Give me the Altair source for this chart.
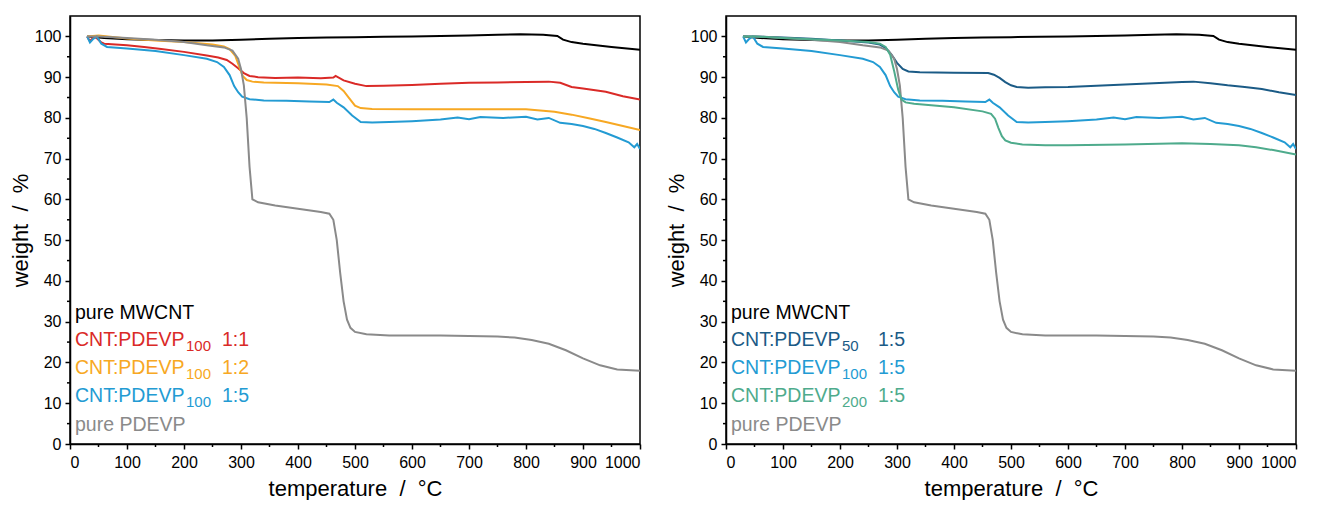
import altair as alt
import pandas as pd

# ---------------- data ----------------
T_MWCNT = [30, 60, 100, 150, 200, 250, 300, 350, 400, 450, 500, 550, 600, 650, 700, 750, 790, 830, 855, 865, 880, 900, 950, 1000]
W_MWCNT = [100, 99.6, 99.3, 99.1, 99.0, 99.0, 99.2, 99.4, 99.6, 99.7, 99.8, 99.9, 100.0, 100.1, 100.2, 100.4, 100.5, 100.4, 100.1, 99.2, 98.6, 98.2, 97.4, 96.7]

T_PDEVP = [30, 50, 100, 150, 200, 240, 270, 285, 295, 300, 305, 310, 315, 320, 330, 360, 400, 440, 455, 462, 468, 474, 480, 486, 492, 500, 520, 560, 600, 650, 700, 750, 780, 810, 840, 870, 900, 930, 960, 1000]
W_PDEVP = [100, 100, 99.6, 99.2, 98.6, 97.8, 97.3, 96.5, 94.5, 92, 88, 80, 68, 60, 59.3, 58.5, 57.7, 56.9, 56.5, 55, 50, 42, 35, 30.5, 28.5, 27.5, 26.9, 26.6, 26.6, 26.6, 26.5, 26.4, 26.1, 25.5, 24.6, 23.0, 21.0, 19.3, 18.3, 18.0]

T_100_11 = [30, 35, 40, 45, 55, 60, 80, 100, 130, 160, 200, 240, 260, 275, 285, 295, 305, 315, 330, 360, 400, 440, 462, 466, 480, 500, 520, 550, 600, 650, 700, 750, 800, 840, 860, 880, 900, 940, 970, 1000]
W_100_11 = [100, 98.8, 99.6, 99.8, 98.5, 98.2, 98.0, 97.8, 97.4, 96.9, 96.2, 95.3, 94.8, 94.2, 93.3, 92.2, 91.0, 90.3, 90.0, 89.8, 89.9, 89.7, 89.9, 90.3, 89.2, 88.4, 87.8, 87.9, 88.1, 88.4, 88.6, 88.7, 88.8, 88.9, 88.6, 87.6, 87.2, 86.4, 85.3, 84.5]

T_100_12 = [30, 50, 100, 150, 200, 250, 270, 280, 290, 297, 303, 310, 320, 340, 400, 450, 470, 480, 490, 500, 510, 530, 600, 700, 800, 850, 880, 910, 940, 970, 1000]
W_100_12 = [100, 100.2, 99.5, 99.0, 98.6, 98.0, 97.5, 96.9, 95.2, 92.5, 90.3, 89.3, 88.9, 88.7, 88.5, 88.2, 87.8, 86.6, 84.8, 83.0, 82.4, 82.2, 82.1, 82.1, 82.1, 81.5, 80.8, 79.9, 79.0, 78.0, 77.0]

T_100_15 = [30, 35, 40, 47, 55, 65, 100, 150, 200, 240, 258, 270, 280, 288, 295, 302, 315, 340, 380, 420, 455, 462, 468, 480, 495, 510, 530, 560, 600, 650, 680, 700, 720, 760, 800, 820, 840, 860, 880, 900, 920, 940, 960, 980, 990, 995, 1000]
W_100_15 = [100, 98.5, 99.3, 100, 98.2, 97.4, 97.0, 96.4, 95.4, 94.5, 93.7, 92.5, 90.5, 87.8, 86.3, 85.2, 84.6, 84.3, 84.2, 84.0, 83.9, 84.5, 83.7, 82.6, 80.6, 79.0, 78.9, 79.0, 79.2, 79.6, 80.1, 79.7, 80.2, 80.0, 80.3, 79.6, 80.0, 78.8, 78.5, 78.0, 77.3, 76.3, 75.2, 74.0, 72.8, 73.6, 72.4]

T_50_15 = [30, 50, 100, 150, 200, 250, 270, 280, 290, 300, 310, 320, 340, 400, 460, 470, 480, 490, 500, 510, 530, 560, 600, 650, 700, 750, 800, 820, 850, 880, 910, 940, 970, 1000]
W_50_15 = [100, 100, 99.7, 99.4, 99.0, 98.5, 98.0, 97.2, 95.6, 93.5, 92.0, 91.4, 91.2, 91.1, 91.0, 90.6, 89.8, 88.8, 88.0, 87.6, 87.4, 87.5, 87.6, 87.9, 88.2, 88.5, 88.8, 88.9, 88.5, 88.0, 87.6, 87.1, 86.3, 85.6]

T_200_15 = [30, 50, 100, 150, 200, 250, 270, 280, 288, 295, 302, 308, 315, 330, 350, 400, 450, 465, 472, 478, 484, 490, 500, 520, 560, 600, 700, 800, 850, 900, 930, 960, 1000]
W_200_15 = [100, 100, 99.6, 99.3, 99.0, 98.6, 98.2, 97.4, 95.5, 91.5, 87.0, 84.5, 83.8, 83.5, 83.2, 82.6, 81.6, 81.0, 79.8, 77.5, 75.5, 74.5, 73.9, 73.5, 73.3, 73.3, 73.5, 73.8, 73.6, 73.3, 72.8, 72.1, 71.0]

X_TICKS = list(range(0, 1001, 100))
X_MINOR = list(range(50, 1000, 100))
Y_TICKS = list(range(0, 101, 10))
Y_MINOR = list(range(5, 100, 10))

LEFT_LEGEND = [("pure MWCNT", "", ""), ("CNT:PDEVP", "100", "1:1"), ("CNT:PDEVP", "100", "1:2"),
               ("CNT:PDEVP", "100", "1:5"), ("pure PDEVP", "", "")]
RIGHT_LEGEND = [("pure MWCNT", "", ""), ("CNT:PDEVP", "50", "1:5"), ("CNT:PDEVP", "100", "1:5"),
                ("CNT:PDEVP", "200", "1:5"), ("pure PDEVP", "", "")]

# ---------------- styles ----------------
BLACK = "#000000"
RED = "#DA2A27"
ORANGE = "#F7A823"
BLUE = "#239BD3"
GRAY = "#8A8A8A"
DKBLUE = "#1B5B86"
TEAL = "#4EAB8C"
FONT = "Liberation Sans"
W_PX, H_PX = 570, 428

x_enc = alt.X("T:Q", scale=alt.Scale(domain=[0, 1000], nice=False),
              axis=alt.Axis(values=X_TICKS, format="d", title="temperature\u00a0 /\u00a0 °C",
                            labelPadding=5, titlePadding=8))
y_enc = alt.Y("W:Q", scale=alt.Scale(domain=[0, 105], nice=False, zero=False),
              axis=alt.Axis(values=Y_TICKS, format="d", title="weight\u00a0 /\u00a0 %",
                            labelPadding=4, titlePadding=2))


def line(T, W, color):
    return alt.Chart(pd.DataFrame({"T": T, "W": W})).mark_line(
        color=color, strokeWidth=2, clip=True).encode(x=x_enc, y=y_enc)


def minor_ticks():
    xm = alt.Chart(pd.DataFrame({"T": X_MINOR})).mark_rule(color="black", strokeWidth=1.5).encode(
        x=x_enc, y=alt.value(H_PX), y2=alt.value(H_PX + 3))
    ym = alt.Chart(pd.DataFrame({"W": Y_MINOR})).mark_rule(color="black", strokeWidth=1.5).encode(
        y=y_enc, x=alt.value(-3), x2=alt.value(0))
    return [xm, ym]


def legend(items, colors):
    layers = []
    baselines = [303, 330, 358, 386, 415]
    for (main, sub, ratio), col, yb in zip(items, colors, baselines):
        layers.append(alt.Chart(pd.DataFrame({"t": [main]})).mark_text(
            align="left", baseline="alphabetic", font=FONT, fontSize=19.5, color=col).encode(
            text="t:N", x=alt.value(5), y=alt.value(yb)))
        if sub:
            layers.append(alt.Chart(pd.DataFrame({"t": [sub]})).mark_text(
                align="left", baseline="alphabetic", font=FONT, fontSize=15, color=col).encode(
                text="t:N", x=alt.value(116), y=alt.value(yb + 5)))
            layers.append(alt.Chart(pd.DataFrame({"t": [ratio]})).mark_text(
                align="left", baseline="alphabetic", font=FONT, fontSize=19.5, color=col).encode(
                text="t:N", x=alt.value(152), y=alt.value(yb)))
    return layers


left = alt.layer(
    line(T_MWCNT, W_MWCNT, BLACK),
    line(T_100_11, W_100_11, RED),
    line(T_100_12, W_100_12, ORANGE),
    line(T_100_15, W_100_15, BLUE),
    line(T_PDEVP, W_PDEVP, GRAY),
    *minor_ticks(),
    *legend(LEFT_LEGEND, [BLACK, RED, ORANGE, BLUE, GRAY]),
).properties(width=W_PX, height=H_PX)

right = alt.layer(
    line(T_MWCNT, W_MWCNT, BLACK),
    line(T_50_15, W_50_15, DKBLUE),
    line(T_100_15, W_100_15, BLUE),
    line(T_PDEVP, W_PDEVP, GRAY),
    line(T_200_15, W_200_15, TEAL),
    *minor_ticks(),
    *legend(RIGHT_LEGEND, [BLACK, DKBLUE, BLUE, TEAL, GRAY]),
).properties(width=W_PX, height=H_PX)

chart = alt.hconcat(left, right, spacing=86, bounds="flush").properties(
    padding={"left": 0, "top": 7, "right": 0, "bottom": 0}
).configure_axis(
    domainColor="black", tickColor="black", labelColor="black", titleColor="black",
    labelFont=FONT, titleFont=FONT, labelFontSize=16, titleFontSize=22,
    titleFontWeight="normal", grid=False, tickSize=5, domainWidth=1.5, tickWidth=1.5,
).configure_view(stroke="black", strokeWidth=1.5)

chart.save("out.html", embed_options={"renderer": "svg", "actions": False})
